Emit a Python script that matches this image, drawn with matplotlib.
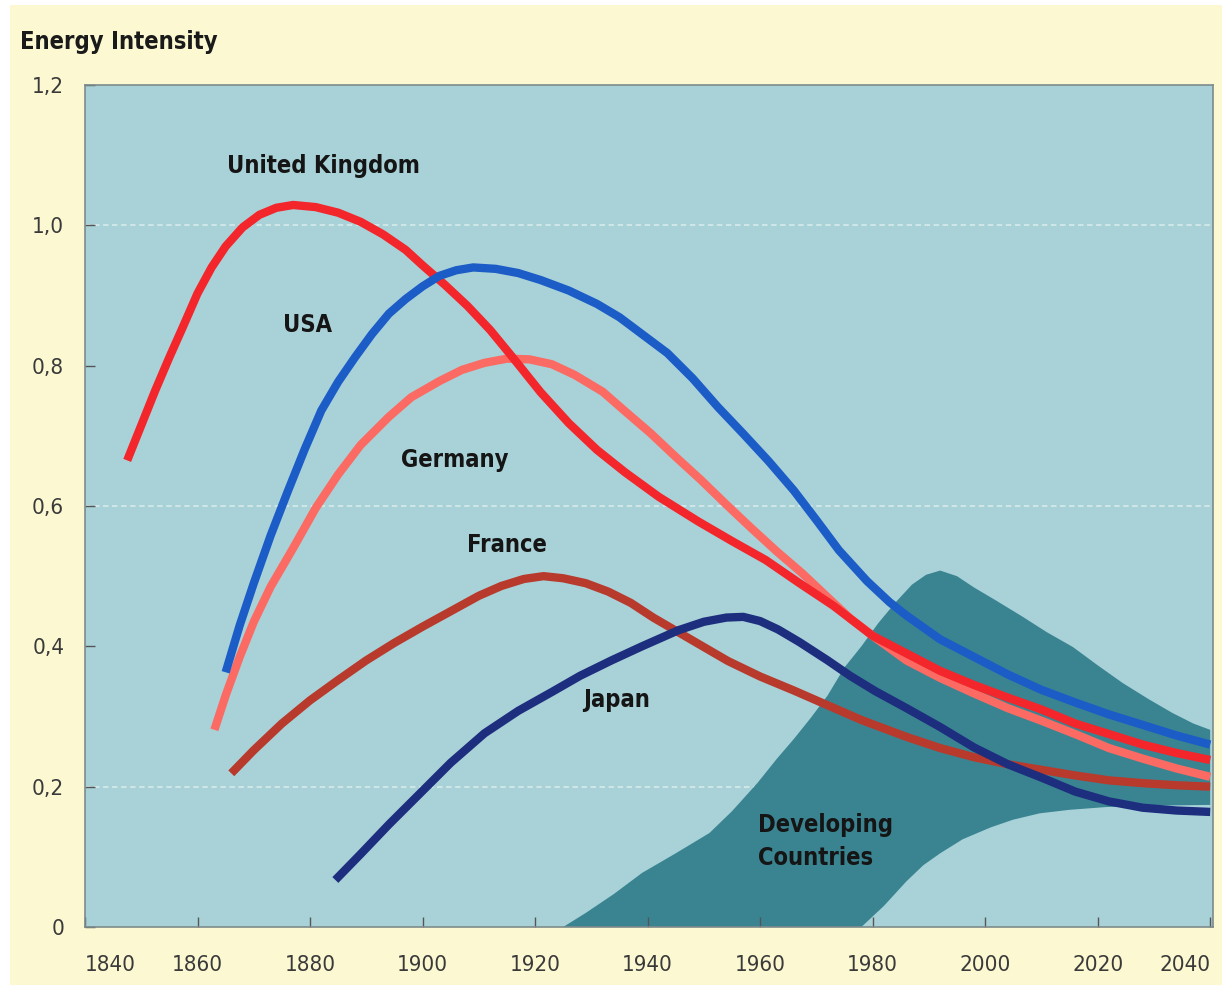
import matplotlib
matplotlib.use('Agg')
import matplotlib.pyplot as plt
from matplotlib.patches import Rectangle

# ---- data ----
uk_years = [1847.5, 1850, 1852.5, 1855, 1857.5, 1860, 1862.5, 1865, 1868, 1871, 1874, 1877, 1881, 1885,
            1889, 1893, 1897, 1900, 1904, 1908, 1912, 1916, 1921, 1926, 1931, 1936, 1942, 1949, 1955,
            1961, 1967, 1973, 1980, 1986, 1992, 1998, 2004, 2010, 2016, 2022, 2028, 2034, 2040]
uk_vals = [0.665, 0.715, 0.765, 0.812, 0.857, 0.903, 0.94, 0.97, 0.997, 1.015, 1.025, 1.029, 1.026, 1.018,
           1.005, 0.987, 0.965, 0.943, 0.915, 0.885, 0.851, 0.812, 0.762, 0.718, 0.68, 0.648, 0.613, 0.578, 0.55,
           0.523, 0.49, 0.458, 0.415, 0.39, 0.365, 0.345, 0.327, 0.31, 0.29, 0.275, 0.26, 0.248, 0.238]

usa_years = [1865, 1867.5, 1870, 1873, 1876, 1879, 1882, 1885, 1888, 1891, 1894, 1897, 1900, 1903, 1906,
             1909, 1913, 1917, 1921, 1926, 1931, 1935, 1939, 1943.5, 1948, 1952.5, 1957, 1961.5, 1966,
             1970, 1974, 1979, 1983, 1986, 1992, 1998, 2004, 2010, 2016, 2022, 2028, 2034, 2040]
usa_vals = [0.363, 0.43, 0.49, 0.558, 0.62, 0.68, 0.736, 0.777, 0.812, 0.845, 0.874, 0.895, 0.913, 0.928, 0.936,
            0.94, 0.938, 0.932, 0.922, 0.907, 0.888, 0.869, 0.845, 0.818, 0.782, 0.741, 0.703, 0.664, 0.622,
            0.58, 0.537, 0.493, 0.463, 0.444, 0.41, 0.385, 0.36, 0.338, 0.32, 0.303, 0.288, 0.273, 0.26]

ger_years = [1863, 1865, 1867.5, 1870, 1873, 1877, 1881, 1885, 1889, 1894, 1898, 1903, 1907, 1911, 1915,
             1919, 1923, 1927, 1932, 1936, 1940.5, 1945, 1949.5, 1954, 1958.5, 1963, 1967.5, 1972, 1976,
             1980, 1986, 1992, 1998, 2004, 2010, 2016, 2022, 2028, 2034, 2040]
ger_vals = [0.281, 0.33, 0.385, 0.435, 0.485, 0.54, 0.597, 0.645, 0.687, 0.727, 0.755, 0.778, 0.794, 0.804, 0.81,
            0.809, 0.802, 0.787, 0.763, 0.735, 0.704, 0.67, 0.637, 0.602, 0.568, 0.535, 0.504, 0.47, 0.44,
            0.415, 0.38, 0.355, 0.333, 0.312, 0.294, 0.275, 0.255, 0.24, 0.226, 0.214]

fra_years = [1866, 1870, 1875, 1880, 1885, 1890, 1895, 1900, 1905, 1910, 1914, 1918, 1921.5, 1925, 1929,
             1933, 1937, 1941, 1945.5, 1950, 1954.3, 1960, 1966, 1972, 1978, 1986, 1992, 1998, 2004, 2010,
             2016, 2022, 2028, 2034, 2040]
fra_vals = [0.219, 0.252, 0.29, 0.323, 0.352, 0.38, 0.405, 0.428, 0.45, 0.472, 0.486, 0.496, 0.5, 0.497, 0.49,
            0.478, 0.462, 0.441, 0.42, 0.399, 0.379, 0.357, 0.337, 0.316, 0.295, 0.271, 0.255, 0.242, 0.232, 0.224,
            0.216, 0.209, 0.205, 0.202, 0.2]

jap_years = [1884.5, 1889, 1894, 1899.5, 1905, 1911, 1917, 1923, 1928, 1933.6, 1939, 1945.5, 1950, 1954,
             1957, 1960, 1963.2, 1967, 1972, 1976, 1980.5, 1986, 1992, 1998, 2004, 2010, 2016, 2022, 2028,
             2034, 2040]
jap_vals = [0.067, 0.104, 0.146, 0.19, 0.234, 0.276, 0.308, 0.335, 0.358, 0.38, 0.4, 0.423, 0.435, 0.441,
            0.442, 0.436, 0.424, 0.406, 0.38, 0.358, 0.336, 0.312, 0.285, 0.256, 0.232, 0.213, 0.193, 0.179, 0.17,
            0.166, 0.164]

dev_top_years = [1925, 1929, 1934, 1939, 1945, 1951, 1955, 1959.5, 1963, 1966, 1969, 1972, 1975, 1978, 1981,
                 1984, 1987, 1989.5, 1992, 1995, 1998, 2002, 2006.7, 2011, 2015.6, 2020, 2024.4, 2029,
                 2033.3, 2037, 2040]
dev_top_vals = [0.0, 0.02, 0.047, 0.077, 0.105, 0.134, 0.165, 0.205, 0.24, 0.268, 0.298, 0.33, 0.37, 0.4, 0.433,
                0.462, 0.488, 0.502, 0.508, 0.5, 0.484, 0.465, 0.442, 0.42, 0.399, 0.373, 0.348, 0.325,
                0.305, 0.29, 0.281]
dev_bot_years = [1925, 1978, 1982, 1986, 1989, 1992, 1996, 2001, 2005, 2009.7, 2015, 2021.6, 2030, 2040]
dev_bot_vals = [0, 0, 0.03, 0.065, 0.088, 0.105, 0.125, 0.142, 0.153, 0.162, 0.167, 0.171, 0.173, 0.174]

x_ticks = list(range(1840, 2041, 20))
y_ticks = [0, 0.2, 0.4, 0.6, 0.8, 1.0, 1.2]
y_labels = ['0', '0,2', '0,4', '0,6', '0,8', '1,0', '1,2']

# ---- figure ----
fig = plt.figure(figsize=(12.26, 9.91), dpi=100, facecolor='white')
fig.patches.append(Rectangle((10 / 1226, 6 / 991), 1212 / 1226, 980 / 991,
                             transform=fig.transFigure, facecolor='#fbf8d2', edgecolor='none', zorder=-10))
ax = fig.add_axes([85 / 1226, 1 - 927 / 991, 1128 / 1226, 842 / 991])
ax.set_facecolor('#a9d2d8')

font = dict(family='DejaVu Sans', stretch='condensed')

# developing countries band: top edge forward, bottom edge back
band_x = dev_top_years + dev_bot_years[::-1]
band_y = dev_top_vals + dev_bot_vals[::-1]
ax.fill(band_x, band_y, color='#3a8492', linewidth=0, zorder=1)

for yy in [0.2, 0.6, 1.0]:
    ax.axhline(yy, color='#e6f3f0', lw=1.3, alpha=0.7, ls=(0, (3, 2)), zorder=0.5)

line = dict(lw=6, solid_capstyle='butt', solid_joinstyle='round', zorder=3)
ax.plot(fra_years, fra_vals, color='#b83a2c', **line)
ax.plot(jap_years, jap_vals, color='#1d2e7e', **line)
ax.plot(ger_years, ger_vals, color='#fb6b63', **line)
ax.plot(uk_years, uk_vals, color='#f2262b', **line)
ax.plot(usa_years, usa_vals, color='#1c5cc6', **line)

lab = dict(fontsize=17, fontweight='bold', color='#151515', ha='center', va='center', zorder=5, **font)
ax.text(1882.3, 1.085, 'United Kingdom', **lab)
ax.text(1879.6, 0.858, 'USA', **lab)
ax.text(1905.8, 0.665, 'Germany', **lab)
ax.text(1915, 0.544, 'France', **lab)
ax.text(1934.5, 0.323, 'Japan', **lab)
ax.text(1959.6, 0.122, 'Developing\nCountries', fontsize=17, fontweight='bold', color='#151515',
        ha='left', va='center', linespacing=1.45, zorder=5, **font)

ax.set_xlim(1840, 2040.5)
ax.set_ylim(0, 1.2)
ax.set_xticks(x_ticks)
ax.set_xticklabels([str(t) for t in x_ticks], fontsize=16, color='#3a3a3a', **font)
tl = ax.get_xticklabels()
tl[0].set_ha('left')
tl[-1].set_ha('right')
ax.set_yticks(y_ticks)
ax.set_yticklabels(y_labels, fontsize=16, color='#3a3a3a', **font)

ax.tick_params(axis='x', direction='in', length=7, width=1, color='#555555', pad=20)
ax.tick_params(axis='y', direction='in', length=7, width=1, color='#555555', pad=15)
for s in ax.spines.values():
    s.set_color('#7d8b8c')
    s.set_linewidth(1.2)

fig.text(20 / 1226, 1 - 42 / 991, 'Energy Intensity', fontsize=17, fontweight='bold',
         color='#1a1a1a', ha='left', va='center', **font)

fig.savefig('out.png', dpi=100, facecolor=fig.get_facecolor())
